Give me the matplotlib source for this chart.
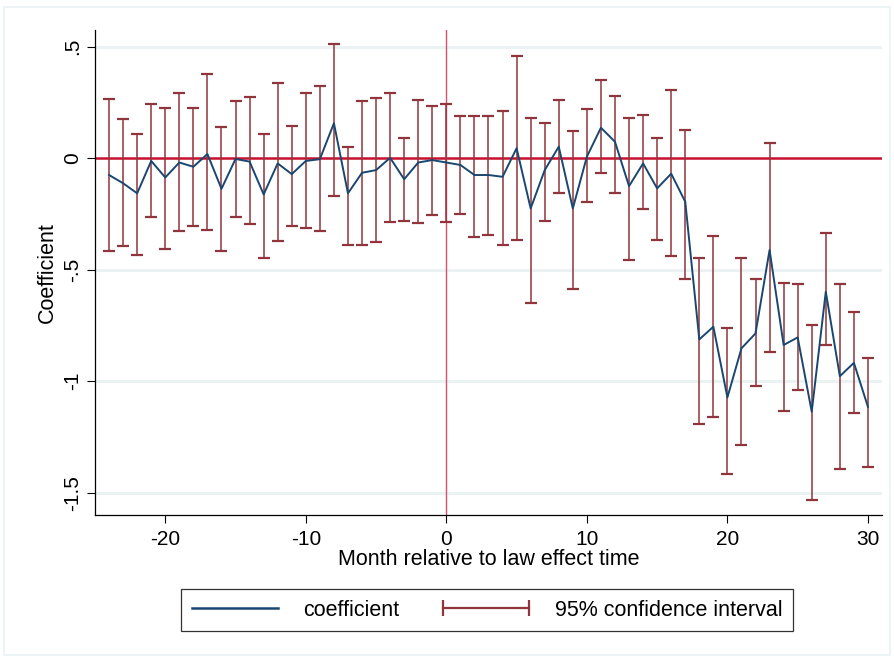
import matplotlib
matplotlib.use("Agg")
import matplotlib.pyplot as plt
from matplotlib.lines import Line2D
from matplotlib.patches import Rectangle
from matplotlib.legend_handler import HandlerLine2D

# ---- data ----
months = list(range(-24, 31))
coef = [-0.076, -0.113, -0.158, -0.013, -0.087, -0.020, -0.039, 0.018, -0.138, -0.004,
        -0.016, -0.163, -0.024, -0.072, -0.013, -0.005, 0.156, -0.158, -0.066, -0.054,
        0.001, -0.095, -0.020, -0.009, -0.020, -0.031, -0.076, -0.076, -0.084, 0.044,
        -0.226, -0.054, 0.051, -0.226, 0.006, 0.136, 0.073, -0.126, -0.024, -0.136,
        -0.070, -0.196, -0.813, -0.756, -1.073, -0.853, -0.786, -0.412, -0.838, -0.804,
        -1.137, -0.599, -0.978, -0.918, -1.115]
ci_hi = [0.265, 0.173, 0.109, 0.242, 0.224, 0.290, 0.224, 0.375, 0.137, 0.254,
         0.272, 0.109, 0.336, 0.145, 0.291, 0.323, 0.511, 0.051, 0.254, 0.270,
         0.291, 0.091, 0.259, 0.235, 0.242, 0.190, 0.190, 0.190, 0.209, 0.459,
         0.180, 0.157, 0.259, 0.122, 0.218, 0.351, 0.280, 0.178, 0.195, 0.092,
         0.305, 0.127, -0.450, -0.350, -0.761, -0.450, -0.544, 0.066, -0.559, -0.566,
         -0.749, -0.338, -0.566, -0.689, -0.895]
ci_lo = [-0.418, -0.396, -0.436, -0.265, -0.408, -0.327, -0.305, -0.323, -0.418, -0.263,
         -0.297, -0.449, -0.372, -0.305, -0.315, -0.327, -0.171, -0.390, -0.390, -0.378,
         -0.287, -0.281, -0.293, -0.257, -0.287, -0.251, -0.356, -0.344, -0.390, -0.368,
         -0.649, -0.283, -0.157, -0.587, -0.197, -0.069, -0.156, -0.459, -0.230, -0.368,
         -0.441, -0.540, -1.194, -1.160, -1.414, -1.287, -1.022, -0.868, -1.133, -1.040,
         -1.534, -0.839, -1.396, -1.142, -1.384]

xticks = [-20, -10, 0, 10, 20, 30]
yticks = [0.5, 0, -0.5, -1, -1.5]
ytick_labels = [".5", "0", "-.5", "-1", "-1.5"]

navy = "#1a476f"
maroon = "#90353b"
grid_col = "#eaf2f3"

plt.rcParams["font.family"] = ["Liberation Sans", "DejaVu Sans"]
plt.rcParams["axes.unicode_minus"] = False

fig = plt.figure(figsize=(8.94, 6.58), dpi=100)
fig.patches.append(Rectangle((0.004, 0.004), 0.992, 0.985, transform=fig.transFigure,
                             fill=False, edgecolor=grid_col, linewidth=1.2))

ax = fig.add_axes([95 / 894, 143 / 658, 787 / 894, 485 / 658])

for y in [0.5, -0.5, -1, -1.5]:
    ax.axhline(y, color=grid_col, linewidth=2.2, zorder=0)
ax.axhline(0, color="#c8102e", linewidth=1.8, zorder=1)
ax.axvline(0, color="#d6506e", linewidth=1.0, zorder=1)

lo_err = [c - l for c, l in zip(coef, ci_lo)]
hi_err = [h - c for c, h in zip(coef, ci_hi)]
ax.errorbar(months, coef, yerr=[lo_err, hi_err], fmt="none", ecolor=maroon,
            elinewidth=1.1, capsize=4, capthick=1.6, zorder=2)
ax.plot(months, coef, color=navy, linewidth=1.4, zorder=3)

ax.set_xlim(-25, 31)
ax.set_ylim(-1.6, 0.574)
ax.set_xticks(xticks)
ax.set_yticks(yticks)
ax.set_yticklabels(ytick_labels, rotation=90, va="center")
ax.tick_params(labelsize=15, length=6, width=0.8, colors="black")
ax.tick_params(axis="y", pad=3)
ax.tick_params(axis="x", pad=5)
for s in ["top", "right"]:
    ax.spines[s].set_visible(False)
ax.spines["left"].set_linewidth(0.9)
ax.spines["bottom"].set_linewidth(0.9)

ax.set_xlabel("Month relative to law effect time", fontsize=15.5, labelpad=0)
ax.set_ylabel("Coefficient", fontsize=15.5, labelpad=4)

h_coef = Line2D([], [], color=navy, linewidth=1.8)
h_ci = Line2D([], [], color=maroon, linewidth=1.6, marker="|", markersize=11,
              markeredgewidth=1.6)
leg = fig.legend([h_coef, h_ci], ["coefficient", "95% confidence interval"],
                 loc="center", bbox_to_anchor=(487 / 894, 1 - 610 / 658), ncol=2,
                 fontsize=15.5, frameon=True, fancybox=False, edgecolor="black",
                 handlelength=4.0, handletextpad=1.2, columnspacing=2.0, borderpad=0.5,
                 handler_map={h_ci: HandlerLine2D(numpoints=2, marker_pad=0)})
leg.get_frame().set_linewidth(0.9)

fig.savefig("out.png", dpi=100)
